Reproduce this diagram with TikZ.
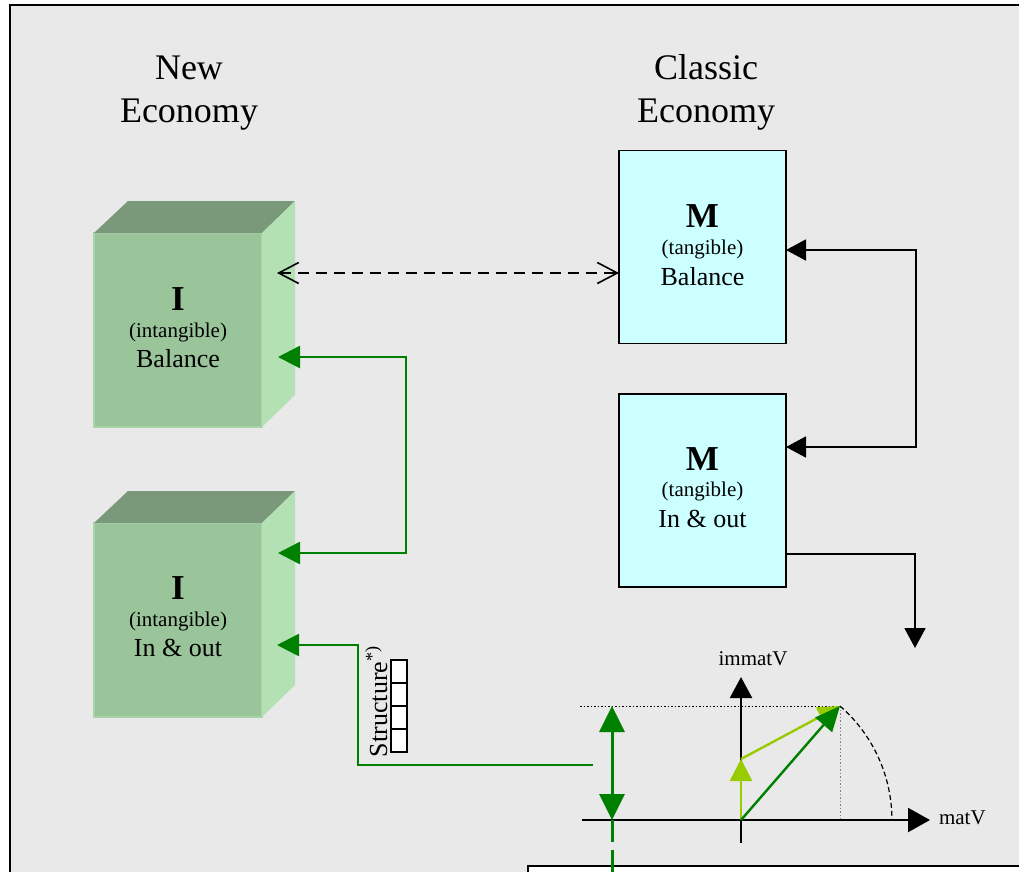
\documentclass[tikz,border=0pt]{standalone}
\usepackage{fontspec}
\setmainfont{Liberation Serif}
\usetikzlibrary{arrows.meta,calc}
\definecolor{bg}{HTML}{E9E9E9}
\definecolor{cfront}{HTML}{9AC49A}
\definecolor{ctop}{HTML}{7A987A}
\definecolor{cside}{HTML}{B3E1B3}
\definecolor{cedge}{HTML}{A9D3A9}
\definecolor{mfill}{HTML}{CCFFFF}
\definecolor{dgreen}{HTML}{008000}
\definecolor{lgreen}{HTML}{99CC00}
\newcommand\setfs[1]{\fontsize{#1}{#1}\selectfont}
\begin{document}
\begin{tikzpicture}[x=1pt,y=-1pt,
  lbl/.style={anchor=base,inner sep=0pt,outer sep=0pt},
  front/.style={draw=cedge,line width=1.5pt,fill=cfront,minimum width=168pt,minimum height=194pt,inner sep=0pt,outer sep=0pt},
  mbox/.style={draw=black,line width=1.8pt,fill=mfill,minimum width=167pt,minimum height=193pt,inner sep=0pt,outer sep=0pt},
  blk/.style={black,line width=1.8pt},
  blkhead/.style={-{Triangle[length=20pt,width=21pt]}},
  grn/.style={dgreen,line width=2.6pt},
  grnhead/.style={-{Triangle[length=22pt,width=22pt]}},
  sbox/.style={draw=black,line width=1.3pt,fill=white,minimum width=16pt,minimum height=23pt,inner sep=0pt,outer sep=0pt}]
\useasboundingbox (0,0) rectangle (1019,871);
\clip (0,0) rectangle (1019,871);
\fill[white] (0,0) rectangle (1019,871);
\draw[line width=2pt,fill=bg] (10,5) rectangle (1045,905);

% headings
\node[lbl,font=\setfs{36}] (newA) at (189,79) {New};
\node[lbl,font=\setfs{36}] (newB) at (189,122) {Economy};
\node[lbl,font=\setfs{36}] (clsA) at (706,79) {Classic};
\node[lbl,font=\setfs{36}] (clsB) at (706,122) {Economy};

% cube 1
\node[front] (c1) at (178,330) {};
\fill[ctop] (c1.north west) -- ++(34,-32) -- ++(167,0) -- (c1.north east) -- cycle;
\fill[cside] (c1.north east) -- ++(33,-32) -- ++(0,194) -- (c1.south east) -- cycle;
\node[lbl,font=\setfs{35}\bfseries] (c1a) at (178,310) {I};
\node[lbl,font=\setfs{21}] (c1b) at (178,337) {(intangible)};
\node[lbl,font=\setfs{26}] (c1c) at (178,367) {Balance};

% cube 2
\node[front] (c2) at (178,620) {};
\fill[ctop] (c2.north west) -- ++(34,-32) -- ++(167,0) -- (c2.north east) -- cycle;
\fill[cside] (c2.north east) -- ++(33,-32) -- ++(0,194) -- (c2.south east) -- cycle;
\node[lbl,font=\setfs{35}\bfseries] (c2a) at (178,599) {I};
\node[lbl,font=\setfs{21}] (c2b) at (178,626) {(intangible)};
\node[lbl,font=\setfs{26}] (c2c) at (178,656) {In \& out};

% M boxes
\node[mbox] (m1) at (702.5,247) {};
\node[lbl,font=\setfs{35}\bfseries] (m1a) at (702.5,227) {M};
\node[lbl,font=\setfs{21}] (m1b) at (702.5,254) {(tangible)};
\node[lbl,font=\setfs{26}] (m1c) at (702.5,285) {Balance};

\node[mbox] (m2) at (702.5,490.5) {};
\node[lbl,font=\setfs{35}\bfseries] (m2a) at (702.5,470) {M};
\node[lbl,font=\setfs{21}] (m2b) at (702.5,496) {(tangible)};
\node[lbl,font=\setfs{26}] (m2c) at (702.5,527) {In \& out};

% dashed link
\coordinate (d1) at (277,273);
\draw[black,line width=1.6pt,dash pattern=on 11pt off 7pt,
  {Straight Barb[length=20pt,width=21pt]}-{Straight Barb[length=20pt,width=21pt]}]
  (d1) -- (m1.west |- d1);

% green link between cubes
\coordinate (g0) at (278,357);
\coordinate (g1) at (406,357);
\coordinate (g2) at (406,553);
\coordinate (g3) at (278,553);
\draw[grn,{Triangle[length=22pt,width=22pt]}-{Triangle[length=22pt,width=22pt]}]
  (g0) -- (g1) -- (g2) -- (g3);

% black link between M boxes
\coordinate (r1) at (916,250);
\coordinate (r2) at (916,447);
\draw[blk,{Triangle[length=20pt,width=21pt]}-{Triangle[length=20pt,width=21pt]}]
  (m1.east |- r1) -- (r1) -- (r2) -- (m2.east |- r2);

% output of M in & out
\coordinate (o1) at (915,554);
\coordinate (o2) at (915,648);
\draw[blk,blkhead] (m2.east |- o1) -- (o1) -- (o2);

% structure link
\coordinate (s0) at (277,645);
\coordinate (s1) at (358,645);
\coordinate (s2) at (358,765);
\coordinate (s3) at (593,765);
\draw[grn,{Triangle[length=22pt,width=22pt]}-] (s0) -- (s1) -- (s2) -- (s3);
\node[lbl,anchor=base west,rotate=90,font=\setfs{26}] (stxt) at (387,757) {Structure\textsuperscript{*)}};
\node[sbox] (sb1) at (399,671.5) {};
\node[sbox] (sb2) at (399,694.5) {};
\node[sbox] (sb3) at (399,717.5) {};
\node[sbox] (sb4) at (399,740.5) {};

% bottom box
\draw[line width=1.8pt,fill=white] (528,866) rectangle (1045,905);

% axes diagram
\coordinate (O) at (741,820);
\coordinate (P) at (840,706);
\coordinate (Q) at (741,759);
\coordinate (xl) at (582,820);
\coordinate (xr) at (930,820);
\coordinate (yb) at (741,843);
\coordinate (yt) at (741,677);
\draw[black,line width=1pt,dash pattern=on 1.5pt off 2pt] (580,706) -- (P);
\draw[gray,line width=1pt,dash pattern=on 1.5pt off 2pt] (P) -- (O -| P);
\draw[black,line width=1.2pt,dash pattern=on 5pt off 3pt] (P) arc[start angle=-49,end angle=0,radius=151];
\draw[black,line width=2.2pt,-{Triangle[length=22pt,width=24pt]}] (xl) -- (xr);
\draw[black,line width=2.2pt,-{Triangle[length=21pt,width=22pt]}] (yb) -- (yt);
\node[lbl,font=\setfs{21}] (ylab) at (753,665) {immatV};
\node[lbl,anchor=base west,font=\setfs{21}] (xlab) at (939,824) {matV};
\draw[lgreen,line width=2.6pt,-{Triangle[length=22pt,width=22pt]}] (O) -- (Q);
\draw[lgreen,line width=2.4pt,-{Triangle[length=22pt,width=20pt]}] (Q) -- (P);
\draw[dgreen,line width=2.4pt,-{Triangle[length=25pt,width=22pt]}] (O) -- (P);

% green double arrow
\coordinate (ga) at (612,706);
\coordinate (gb) at (612,820);
\coordinate (gc) at (612,880);
\draw[grn,line width=3pt,{Triangle[length=26pt,width=25pt]}-{Triangle[length=26pt,width=25pt]}] (ga) -- (gb);
\draw[grn,line width=3pt,dash pattern=on 22pt off 8pt] (gb) -- (gc);
\end{tikzpicture}
\end{document}
